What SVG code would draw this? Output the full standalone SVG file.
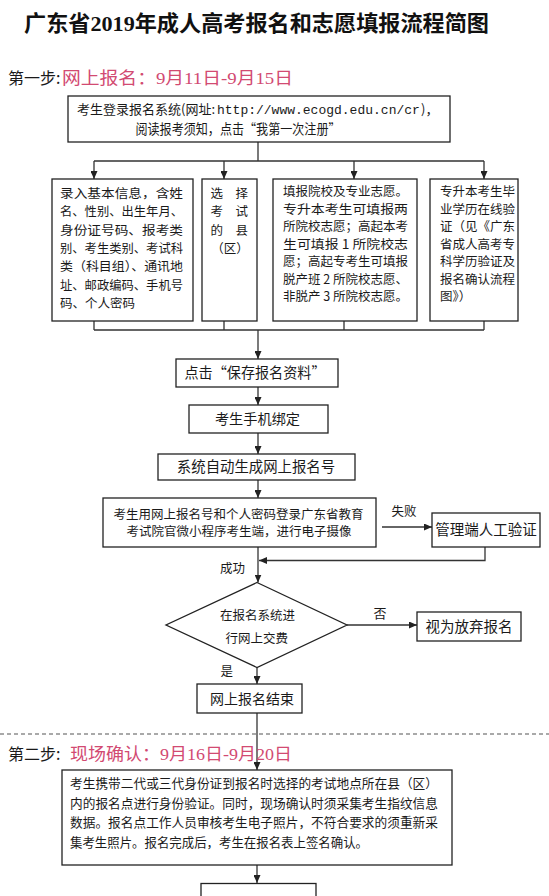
<svg xmlns="http://www.w3.org/2000/svg" width="549" height="896" viewBox="0 0 549 896">
<defs>
<marker id="ah" markerUnits="userSpaceOnUse" markerWidth="8" markerHeight="7" refX="8" refY="3.5" orient="auto">
<path d="M0,0 L8,3.5 L0,7 z" fill="#222"/>
</marker>
<style>
.box{fill:#fff;stroke:#222;stroke-width:1.3}
.ln{fill:none;stroke:#333;stroke-width:1.3}
.ar{fill:none;stroke:#333;stroke-width:1.3;marker-end:url(#ah)}
.t{font-family:"Noto Sans CJK SC","Liberation Sans",sans-serif;fill:#1a1a1a}
.s{font-family:"Liberation Serif","Noto Sans CJK SC",serif}
.mono{font-family:"Liberation Mono",monospace}
.pk{fill:#d24a72}
.m{text-anchor:middle}
</style>
</defs>
<rect width="549" height="896" fill="#fff"/>

<text x="24" y="31" class="s" font-size="22" font-weight="bold" fill="#111" textLength="465" lengthAdjust="spacingAndGlyphs">广东省2019年成人高考报名和志愿填报流程简图</text>

<g id="step1-label">
<text x="8" y="84" class="t" font-size="16">第一步:</text>
<text x="62" y="84" class="s pk" font-size="17" textLength="231" lengthAdjust="spacingAndGlyphs">网上报名：9月11日-9月15日</text>
</g>

<g id="connectors">
<path class="ln" d="M258,142 V161 M94,161 H484"/>
<path class="ar" d="M94,161 V179"/>
<path class="ar" d="M224,161 V179"/>
<path class="ar" d="M354,161 V179"/>
<path class="ar" d="M484,161 V179"/>
<path class="ln" d="M94,321 V330 M224,321 V330 M344,321 V330 M484,321 V330 M94,330 H484"/>
<path class="ar" d="M258,330 V359"/>
<path class="ar" d="M258,387 V405"/>
<path class="ar" d="M258,433 V454"/>
<path class="ar" d="M258,480 V498"/>
<path class="ar" d="M382,527 H432"/>
<path class="ar" d="M485,547 V560.5 H259"/>
<path class="ar" d="M258,547 V582.5"/>
<path class="ar" d="M347,625 H417"/>
<path class="ar" d="M257,667.5 V684"/>
<path class="ar" d="M257,713 V770"/>
<path class="ar" d="M257,865 V883"/>
</g>

<line x1="0" y1="734" x2="549" y2="734" stroke="#555" stroke-width="1.2" stroke-dasharray="4 3"/>

<g id="n-login">
<rect class="box" x="68" y="96" width="382" height="46"/>
<text class="t" font-size="13" y="114"><tspan x="77">考生登录报名系统(网址:</tspan><tspan x="217" class="mono">http://www.ecogd.edu.cn/cr</tspan><tspan x="421">)，</tspan></text>
<text x="238" y="134" class="t m" font-size="13.5" textLength="205" lengthAdjust="spacingAndGlyphs">阅读报考须知，点击“我第一次注册”</text>
</g>

<g id="n-info">
<rect class="box" x="52" y="179" width="141" height="142"/>
<text class="t" font-size="12.5" x="60">
<tspan x="60" y="198" textLength="123" lengthAdjust="spacingAndGlyphs">录入基本信息，含姓</tspan>
<tspan x="60" y="216.3" textLength="123" lengthAdjust="spacingAndGlyphs">名、性别、出生年月、</tspan>
<tspan x="60" y="234.6" textLength="123" lengthAdjust="spacingAndGlyphs">身份证号码、报考类</tspan>
<tspan x="60" y="252.9" textLength="123" lengthAdjust="spacingAndGlyphs">别、考生类别、考试科</tspan>
<tspan x="60" y="271.2" textLength="123" lengthAdjust="spacingAndGlyphs">类（科目组）、通讯地</tspan>
<tspan x="60" y="289.5" textLength="123" lengthAdjust="spacingAndGlyphs">址、邮政编码、手机号</tspan>
<tspan x="60" y="307.8">码、个人密码</tspan>
</text>
</g>

<g id="n-county">
<rect class="box" x="202" y="179" width="55" height="142"/>
<text class="t m" font-size="12.5" x="216.7 241.7" y="198">选择</text>
<text class="t m" font-size="12.5" x="216.7 241.7" y="216.3">考试</text>
<text class="t m" font-size="12.5" x="216.7 241.7" y="234.6">的县</text>
<text class="t m" font-size="12.5" x="230" y="252.9">（区）</text>
</g>

<g id="n-wish">
<rect class="box" x="273" y="179" width="144" height="142"/>
<text class="t" font-size="12.5">
<tspan x="283" y="196.4" textLength="125" lengthAdjust="spacingAndGlyphs">填报院校及专业志愿。</tspan>
<tspan x="283" y="213.9" textLength="125" lengthAdjust="spacingAndGlyphs">专升本考生可填报两</tspan>
<tspan x="283" y="231.4" textLength="125" lengthAdjust="spacingAndGlyphs">所院校志愿；高起本考</tspan>
<tspan x="283" y="248.9" textLength="125" lengthAdjust="spacingAndGlyphs">生可填报 1 所院校志</tspan>
<tspan x="283" y="266.4" textLength="125" lengthAdjust="spacingAndGlyphs">愿；高起专考生可填报</tspan>
<tspan x="283" y="283.9" textLength="125" lengthAdjust="spacingAndGlyphs">脱产班 2 所院校志愿、</tspan>
<tspan x="283" y="301.4" textLength="125" lengthAdjust="spacingAndGlyphs">非脱产 3 所院校志愿。</tspan>
</text>
</g>

<g id="n-verify">
<rect class="box" x="430" y="179" width="88" height="142"/>
<text class="t" font-size="12.5">
<tspan x="440" y="196.4" textLength="75" lengthAdjust="spacingAndGlyphs">专升本考生毕</tspan>
<tspan x="440" y="213.9" textLength="75" lengthAdjust="spacingAndGlyphs">业学历在线验</tspan>
<tspan x="440" y="231.4" textLength="75" lengthAdjust="spacingAndGlyphs">证（见《广东</tspan>
<tspan x="440" y="248.9" textLength="75" lengthAdjust="spacingAndGlyphs">省成人高考专</tspan>
<tspan x="440" y="266.4" textLength="75" lengthAdjust="spacingAndGlyphs">科学历验证及</tspan>
<tspan x="440" y="283.9" textLength="75" lengthAdjust="spacingAndGlyphs">报名确认流程</tspan>
<tspan x="440" y="301.4">图》）</tspan>
</text>
</g>

<g id="n-save">
<rect class="box" x="176" y="359" width="162" height="28"/>
<text x="255" y="378.3" class="t m" font-size="14.5" textLength="141" lengthAdjust="spacingAndGlyphs">点击“保存报名资料”</text>
</g>

<g id="n-phone">
<rect class="box" x="189" y="405" width="139" height="28"/>
<text x="257.5" y="424.3" class="t m" font-size="14.2">考生手机绑定</text>
</g>

<g id="n-number">
<rect class="box" x="158" y="454" width="197" height="26"/>
<text x="256" y="472.3" class="t m" font-size="14.4">系统自动生成网上报名号</text>
</g>

<g id="n-photo">
<rect class="box" x="103" y="498" width="273" height="49"/>
<text x="238.5" y="518.7" class="t m" font-size="12.5" textLength="250" lengthAdjust="spacingAndGlyphs">考生用网上报名号和个人密码登录广东省教育</text>
<text x="239" y="536.4" class="t m" font-size="12.5" textLength="225" lengthAdjust="spacingAndGlyphs">考试院官微小程序考生端，进行电子摄像</text>
</g>

<g id="n-manual">
<rect class="box" x="432" y="513" width="108" height="34"/>
<text x="486" y="535.4" class="t m" font-size="14.5">管理端人工验证</text>
</g>

<g id="labels">
<text x="404" y="516.4" class="t m" font-size="12.5">失败</text>
<text x="232.5" y="573" class="t m" font-size="12.5">成功</text>
<text x="380" y="618" class="t m" font-size="13">否</text>
<text x="226.7" y="676.4" class="t m" font-size="12.5">是</text>
</g>

<g id="n-pay">
<polygon class="box" points="257,582.5 347,625 257,667.5 166,625"/>
<text x="257.5" y="619.7" class="t m" font-size="12.5">在报名系统进</text>
<text x="256.7" y="643" class="t m" font-size="12.5">行网上交费</text>
</g>

<g id="n-giveup">
<rect class="box" x="417" y="612" width="104" height="29"/>
<text x="469" y="631.8" class="t m" font-size="14.5">视为放弃报名</text>
</g>

<g id="n-end">
<rect class="box" x="197" y="684" width="105" height="29"/>
<text x="252" y="703.7" class="t m" font-size="14">网上报名结束</text>
</g>

<g id="step2-label">
<text x="8" y="760" class="t" font-size="16">第二步:</text>
<text x="70" y="760" class="s pk" font-size="17" textLength="222" lengthAdjust="spacingAndGlyphs">现场确认：9月16日-9月20日</text>
</g>

<g id="n-confirm">
<rect class="box" x="62" y="770" width="390" height="95"/>
<text class="t" font-size="12.7">
<tspan x="70" y="788" textLength="368" lengthAdjust="spacingAndGlyphs">考生携带二代或三代身份证到报名时选择的考试地点所在县（区）</tspan>
<tspan x="70" y="807.5" textLength="368" lengthAdjust="spacingAndGlyphs">内的报名点进行身份验证。同时，现场确认时须采集考生指纹信息</tspan>
<tspan x="70" y="827" textLength="368" lengthAdjust="spacingAndGlyphs">数据。报名点工作人员审核考生电子照片，不符合要求的须重新采</tspan>
<tspan x="70" y="846.5" textLength="298" lengthAdjust="spacingAndGlyphs">集考生照片。报名完成后，考生在报名表上签名确认。</tspan>
</text>
</g>

<g id="n-next">
<rect class="box" x="201" y="883.5" width="115" height="30"/>
</g>
</svg>
